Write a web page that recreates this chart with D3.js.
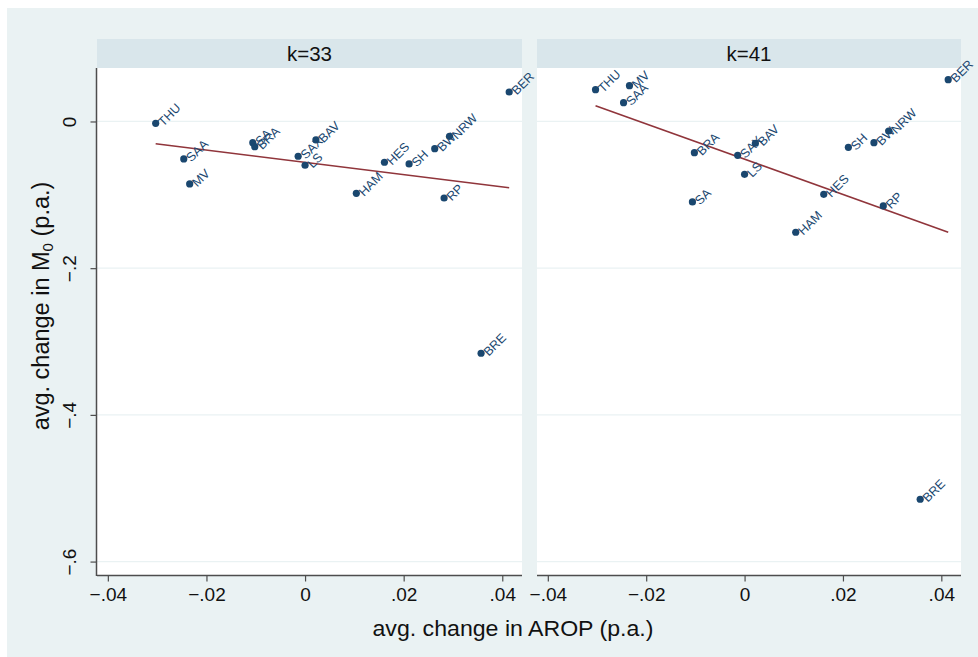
<!DOCTYPE html>
<html>
<head>
<meta charset="utf-8">
<script src="https://cdn.jsdelivr.net/npm/d3@7"></script>
<style>
  html, body { margin: 0; padding: 0; background: #ffffff; }
  svg { display: block; font-family: "Liberation Sans", Arial, Helvetica, sans-serif; }
</style>
</head>
<body>
<svg id="chart" width="978" height="657"></svg>
<script>
// ---- data ----
const states = ["THU","SAA","MV","SA","BRA","SAX","LS","BAV","HAM","HES","SH","BW","NRW","RP","BER","BRE"];
const arop   = [-0.0303,-0.0246,-0.0234,-0.0106,-0.0102,-0.0014,0.0000,0.0022,0.0104,0.0161,0.0211,0.0263,0.0293,0.0282,0.0414,0.0357];
const m0k33  = [-0.0025,-0.0511,-0.0852,-0.0289,-0.0344,-0.0474,-0.0597,-0.0252,-0.0979,-0.0556,-0.0579,-0.0371,-0.0202,-0.1043,0.0402,-0.3160];
const m0k41  = [0.0434,0.0256,0.0488,-0.1097,-0.0425,-0.0461,-0.0720,-0.0297,-0.1510,-0.0993,-0.0352,-0.0289,-0.0130,-0.1152,0.0570,-0.5150];
const fitX   = [-0.0303, 0.0414];
const fitK33 = [-0.0303, -0.0903];
const fitK41 = [0.0215, -0.1510];
const panelTitles = ["k=33", "k=41"];
const xTicks = [-0.04, -0.02, 0, 0.02, 0.04];
const yTicks = [0, -0.2, -0.4, -0.6];

const panels = [
  {title: panelTitles[0], y: m0k33, fit: fitK33},
  {title: panelTitles[1], y: m0k41, fit: fitK41}
];

// ---- styles ----
const C = {
  region: "#eaf2f3", strip: "#d9e6eb", plot: "#ffffff", grid: "#eaf2f3",
  axis: "#4d4d4d", dot: "#1a476f", label: "#1a476f", fit: "#90353b", text: "#111111"
};

const svg = d3.select("#chart");
svg.append("rect").attr("x", 7).attr("y", 8).attr("width", 971).attr("height", 649).attr("fill", C.region);

const plotTop = 68, plotBottom = 575;
const y = d3.scaleLinear().domain([-0.6183, 0.0729]).range([plotBottom, plotTop]);
const panelX = [[97, 522], [537, 961]];

const fmt = v => {
  if (v === 0) return "0";
  let s = String(Math.abs(v)).replace(/^0/, "");
  return (v < 0 ? "\u2212" : "") + s;
};

panels.forEach((p, i) => {
  const [x0, x1] = panelX[i];
  const x = d3.scaleLinear().domain([-0.0422, 0.0440]).range([x0, x1]);
  const g = svg.append("g");

  // strip
  g.append("rect").attr("x", x0).attr("y", 39).attr("width", x1 - x0).attr("height", 29).attr("fill", C.strip);
  g.append("text").attr("x", (x0 + x1) / 2).attr("y", 61).attr("text-anchor", "middle")
    .attr("font-size", 20.5).attr("fill", C.text).text(p.title);

  // plot area
  g.append("rect").attr("x", x0).attr("y", plotTop).attr("width", x1 - x0).attr("height", plotBottom - plotTop).attr("fill", C.plot);

  // grid
  g.selectAll(".grid").data(yTicks).join("line")
    .attr("x1", x0).attr("x2", x1)
    .attr("y1", d => y(d)).attr("y2", d => y(d))
    .attr("stroke", C.grid).attr("stroke-width", 1.2);

  // x axis
  const xAxis = d3.axisBottom(x).tickValues(xTicks).tickSize(6).tickPadding(6).tickFormat(fmt);
  const ax = g.append("g").attr("transform", `translate(0,${plotBottom + 0.5})`).call(xAxis);
  ax.select(".domain").remove();
  ax.append("line").attr("x1", x0).attr("x2", x1).attr("stroke", C.axis).attr("stroke-width", 1.5);
  ax.selectAll(".tick line").attr("stroke", C.axis).attr("stroke-width", 1.2);
  ax.selectAll(".tick text").attr("font-size", 19).attr("fill", C.text)
    .attr("font-family", "Liberation Sans, Arial, sans-serif");

  // y axis (left panel only)
  if (i === 0) {
    const yAxis = d3.axisLeft(y).tickValues(yTicks).tickSize(6).tickPadding(0).tickFormat(fmt);
    const ay = g.append("g").attr("transform", `translate(${x0 - 0.5},0)`).call(yAxis);
    ay.select(".domain").remove();
    ay.append("line").attr("y1", plotTop).attr("y2", plotBottom + 1).attr("stroke", C.axis).attr("stroke-width", 1.5);
    ay.selectAll(".tick line").attr("stroke", C.axis).attr("stroke-width", 1.2);
    ay.selectAll(".tick text")
      .attr("x", 0).attr("dy", null).attr("y", 0)
      .attr("text-anchor", "middle")
      .attr("transform", "translate(-21,0) rotate(-90)")
      .attr("font-size", 19).attr("fill", C.text)
      .attr("font-family", "Liberation Sans, Arial, sans-serif");
  }

  // fit line
  g.append("line")
    .attr("x1", x(fitX[0])).attr("y1", y(p.fit[0]))
    .attr("x2", x(fitX[1])).attr("y2", y(p.fit[1]))
    .attr("stroke", C.fit).attr("stroke-width", 1.6);

  // points
  const pts = states.map((s, k) => ({s, xv: arop[k], yv: p.y[k]}));
  g.selectAll(".dot").data(pts).join("circle")
    .attr("cx", d => x(d.xv)).attr("cy", d => y(d.yv)).attr("r", 3.6).attr("fill", C.dot);

  g.selectAll(".lbl").data(pts).join("text")
    .attr("transform", d => `translate(${x(d.xv) + 4.5},${y(d.yv) + 0.5}) rotate(-45)`)
    .attr("x", 0).attr("y", 0).attr("dy", "0.35em")
    .attr("font-size", 12.5).attr("fill", C.label)
    .text(d => d.s);
});

// axis titles
svg.append("text").attr("x", 513).attr("y", 636).attr("text-anchor", "middle")
  .attr("font-size", 22).attr("fill", C.text)
  .attr("textLength", 281).attr("lengthAdjust", "spacingAndGlyphs")
  .text("avg. change in AROP (p.a.)");

const yt = svg.append("text").attr("transform", "translate(49,306) rotate(-90)")
  .attr("text-anchor", "middle").attr("font-size", 23.5).attr("fill", C.text);
yt.append("tspan").text("avg. change in M");
yt.append("tspan").attr("font-size", 15).attr("dy", 4).text("0");
yt.append("tspan").attr("dy", -4).text(" (p.a.)");
</script>
</body>
</html>
